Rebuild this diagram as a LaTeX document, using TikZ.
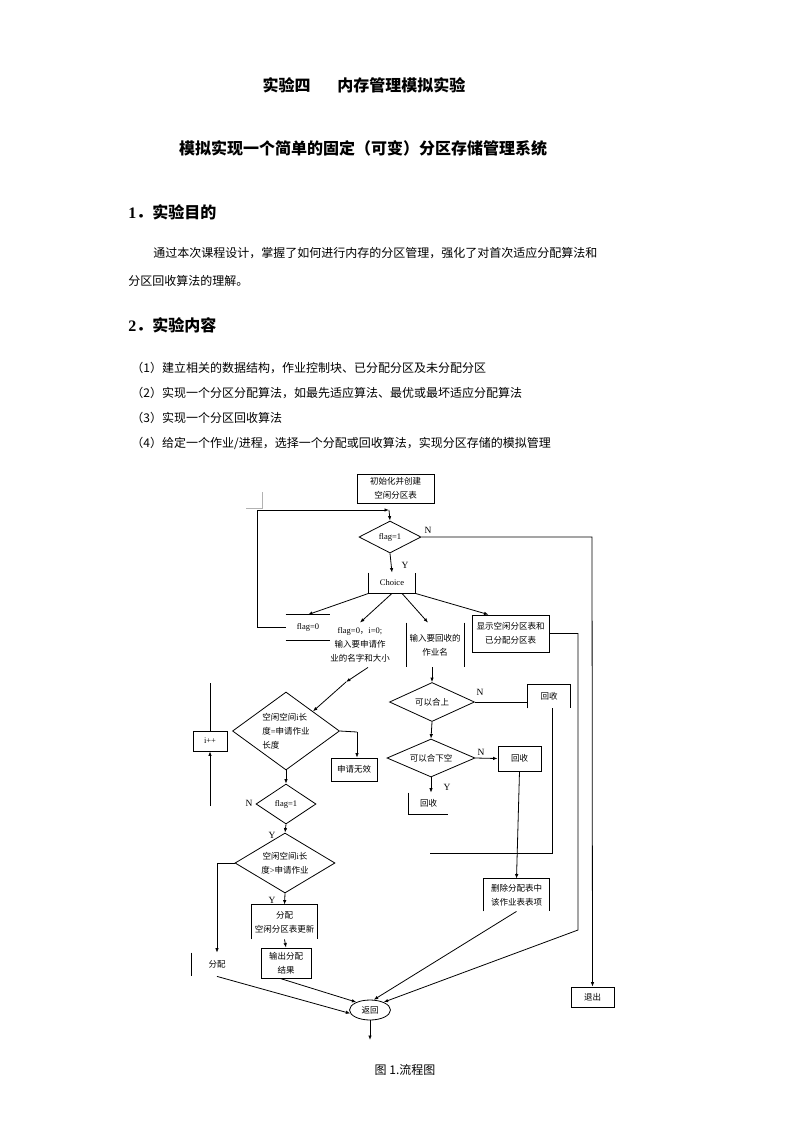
\documentclass[tikz,border=0pt]{standalone}
\usepackage{fontspec}
\setmainfont{Liberation Serif}
\newfontfamily\cjk{Noto Sans CJK SC}
\usetikzlibrary{shapes.geometric,arrows.meta}
\newcommand{\fcfont}{\fontsize{8.5}{14}\selectfont}

\begin{document}
\begin{tikzpicture}[x=1pt, y=-1pt, >={Latex[length=4.5pt,width=3.5pt]}, line width=0.8pt]
    \tikzstyle{box_style} = [draw, rectangle, inner sep=0, font=\fcfont\cjk, align=center]
    \tikzstyle{open_style} = [rectangle, inner sep=0, font=\fcfont\cjk, align=center]
    \tikzstyle{dec_style} = [draw, diamond, inner sep=0, font=\fcfont\cjk, align=center]
    \tikzstyle{edge_style} = [draw=black, ->]
    \tikzstyle{line_style} = [draw=black]
    \tikzstyle{mark_style} = [inner sep=0, font=\fontsize{9.5}{10}\selectfont]
    \tikzstyle{body_style} = [anchor=west, inner sep=0, font=\fontsize{12}{14}\selectfont\cjk]
    \tikzstyle{head_style} = [inner sep=0, font=\fontsize{16}{18}\selectfont\cjk\bfseries]

    \useasboundingbox (0,0) rectangle (793,1122);

    % page text
    \node[head_style] (title) at (364,85) {实验四\hspace{27pt}内存管理模拟实验};
    \node[head_style] (subtitle) at (363,148) {模拟实现一个简单的固定（可变）分区存储管理系统};
    \node[head_style, anchor=west] (aim) at (128,212) {{\rmfamily 1}．实验目的};
    \node[body_style] (aim1) at (153,253) {通过本次课程设计，掌握了如何进行内存的分区管理，强化了对首次适应分配算法和};
    \node[body_style] (aim2) at (128,281) {分区回收算法的理解。};
    \node[head_style, anchor=west] (task) at (128,325) {{\rmfamily 2}．实验内容};
    \node[body_style] (task1) at (131,368) {（1）建立相关的数据结构，作业控制块、已分配分区及未分配分区};
    \node[body_style] (task2) at (131,393) {（2）实现一个分区分配算法，如最先适应算法、最优或最坏适应分配算法};
    \node[body_style] (task3) at (131,418) {（3）实现一个分区回收算法};
    \node[body_style] (task4) at (131,443) {（4）给定一个作业/进程，选择一个分配或回收算法，实现分区存储的模拟管理};
    \node[body_style, anchor=center] (caption) at (405,1070) {图 1.流程图};

    % flow chart
    \node[box_style, minimum width=77, minimum height=29] (init) at (395.5,488.5) {初始化并创建\\空闲分区表};
    \node[dec_style, aspect=1.9, minimum width=62, minimum height=32] (flag1) at (390,537) {\rmfamily flag=1};
    \node[open_style, minimum width=46, minimum height=20] (choice) at (392,583) {\rmfamily Choice};
    \node[open_style, minimum width=44, minimum height=25] (flag0) at (308,627.5) {\rmfamily flag=0};
    \node[open_style, minimum width=92, minimum height=44] (allocin) at (360,645) {{\rmfamily flag=0}，{\rmfamily i=0;}\\输入要申请作\\业的名字和大小};
    \node[open_style, minimum width=58, minimum height=44] (recin) at (435,645) {输入要回收的\\作业名};
    \node[box_style, minimum width=77, minimum height=37] (show) at (510.5,633.5) {显示空闲分区表和\\已分配分区表};
    \node[dec_style, aspect=1.37, minimum width=107, minimum height=78, align=left] (fitA) at (286,731) {空闲空间{\rmfamily i}长\\度{\rmfamily =}申请作业\\长度};
    \node[box_style, minimum width=46, minimum height=23] (invalid) at (354,769.5) {申请无效};
    \node[box_style, minimum width=34, minimum height=20] (incr) at (210,741) {\rmfamily i++};
    \node[dec_style, aspect=1.5, minimum width=60, minimum height=40] (flag1b) at (286,804) {\rmfamily flag=1};
    \node[dec_style, aspect=1.67, minimum width=100, minimum height=60] (fitC) at (285,863) {空闲空间{\rmfamily i}长\\度{\rmfamily >}申请作业};
    \node[open_style, minimum width=50, minimum height=23] (noalloc) at (217,964.5) {分配};
    \node[open_style, minimum width=65, minimum height=34] (alloc) at (284.5,922) {分配\\空闲分区表更新};
    \node[box_style, minimum width=50, minimum height=30] (out) at (286,963) {输出分配\\结果};
    \node[draw, ellipse, inner sep=0, minimum width=41, minimum height=20, font=\fcfont\cjk] (back) at (370,1010) {返回};
    \node[box_style, minimum width=43, minimum height=20] (quit) at (592.5,997) {退出};
    \node[dec_style, aspect=2.2, minimum width=85, minimum height=39] (fitD) at (432,702) {可以合上};
    \node[dec_style, aspect=2.3, minimum width=88, minimum height=38] (fitE) at (431,758) {可以合下空};
    \node[open_style, minimum width=42, minimum height=23] (rec1) at (549,696.5) {回收};
    \node[box_style, minimum width=43, minimum height=25] (rec2) at (519.5,758.5) {回收};
    \node[open_style, minimum width=39, minimum height=21] (rec3) at (428.5,803.5) {回收};
    \node[open_style, minimum width=65, minimum height=32] (del) at (516.5,895) {删除分配表中\\该作业表表项};

    \node[mark_style] (n1) at (428,530) {N};
    \node[mark_style] (y1) at (405,565) {Y};
    \node[mark_style] (n2) at (249,803) {N};
    \node[mark_style] (y2) at (272,835) {Y};
    \node[mark_style] (y3) at (272,900) {Y};
    \node[mark_style] (n3) at (480,692) {N};
    \node[mark_style] (n4) at (481,752) {N};
    \node[mark_style] (y4) at (447,787) {Y};

    \coordinate (loop_top) at (257,510);
    \coordinate (loop_end) at (389,510);
    \coordinate (quit_turn) at (592,537);
    \coordinate (a_mid) at (346,682);
    \coordinate (a_right) at (357,732);
    \coordinate (incr_top) at (210,683);
    \coordinate (incr_low) at (210,806);
    \coordinate (r1_end) at (430,853);
    \coordinate (show_turn) at (578,930);
    \coordinate (back_out) at (370,1040);

    % open borders
    \draw[line_style] (choice.north west) -- (choice.south west) -- (choice.south east) -- (choice.north east);
    \draw[line_style] (flag0.north west) -- (flag0.north east);
    \draw[line_style] (flag0.south west) -- (flag0.south east);
    \draw[line_style] (allocin.north east) -- (allocin.south east);
    \draw[line_style] (recin.north east) -- (recin.south east);
    \draw[line_style] (rec1.south west) -- (rec1.north west) -- (rec1.north east) -- (rec1.south east);
    \draw[line_style] (rec3.north west) -- (rec3.south west) -- (rec3.south east);
    \draw[line_style] (del.south west) -- (del.north west) -- (del.north east) -- (del.south east);
    \draw[line_style] (alloc.south west) -- (alloc.north west) -- (alloc.north east) -- (alloc.south east);
    \draw[line_style] (noalloc.north west) -- (noalloc.south west);
    \draw[gray!60, line width=0.6pt] (246,508) -- (262,508) -- (262,492);

    % connectors
    \draw[edge_style] (flag0.west) -| (loop_top) -- (loop_end);
    \draw[edge_style] (loop_end) -- (flag1.north);
    \draw[edge_style] (flag1.south) -- (choice.north);
    \draw[edge_style] (flag1.east) -- (quit_turn) -- (quit.north);
    \draw[edge_style] (choice.south west) -- (flag0.north);
    \draw[edge_style] (choice.south) -- (allocin.north);
    \draw[edge_style] ([xshift=10]choice.south) -- ([xshift=-7]recin.north);
    \draw[edge_style] (choice.south east) -- ([xshift=-22]show.north);
    \draw[edge_style] ([xshift=8]allocin.south) -- (a_mid);
    \draw[edge_style] (a_mid) -- (fitA.north east);
    \draw[line_style] (fitA.east) -- (a_right);
    \draw[edge_style] (a_right) -- (invalid.north -| a_right);
    \draw[edge_style] (fitA.south) -- (flag1b.north);
    \draw[line_style] (incr.north) -- (incr_top);
    \draw[edge_style] (incr_low) -- (incr.south);
    \draw[edge_style] (flag1b.south) -- (fitC.north);
    \draw[edge_style] (fitC.west) -| (noalloc.north);
    \draw[edge_style] (fitC.south) -- (alloc.north);
    \draw[edge_style] (alloc.south) -- (out.north);
    \draw[edge_style] ([xshift=-6]out.south) -- (back.150);
    \draw[edge_style] (noalloc.south) -- (back.190);
    \draw[edge_style] (show.east) -| (show_turn) -- (back.30);
    \draw[edge_style] (back.south) -- (back_out);
    \draw[edge_style] ([xshift=-3]recin.south) -- (fitD.north);
    \draw[line_style] (fitD.east) -- (fitD.east -| rec1.west);
    \draw[line_style] ([xshift=3]rec1.south) |- (r1_end);
    \draw[edge_style] (fitD.south) -- (fitE.north);
    \draw[edge_style] (fitE.east) -- (rec2.west);
    \draw[edge_style] (rec2.south) -- (del.north);
    \draw[edge_style] (fitE.south) -- (fitE.south |- rec3.north);
    \draw[edge_style] (del.south) -- (back.70);
\end{tikzpicture}
\end{document}
